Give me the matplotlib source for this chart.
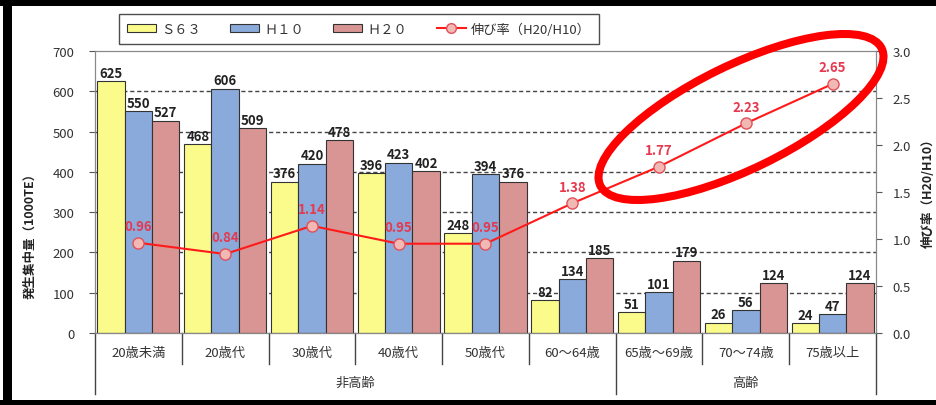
import matplotlib
matplotlib.use("Agg")
import matplotlib.pyplot as plt
import numpy as np
from matplotlib.patches import Ellipse, Rectangle, Patch
from matplotlib.lines import Line2D

plt.rcParams['font.family'] = ['Noto Sans CJK JP', 'DejaVu Sans']

# データ
categories = ["20歳未満", "20歳代", "30歳代", "40歳代", "50歳代",
              "60～64歳", "65歳～69歳", "70～74歳", "75歳以上"]
groups = ["非高齢", "高齢"]
group_span = [(0, 5), (6, 8)]
s63 = [625, 468, 376, 396, 248, 82, 51, 26, 24]
h10 = [550, 606, 420, 423, 394, 134, 101, 56, 47]
h20 = [527, 509, 478, 402, 376, 185, 179, 124, 124]
ratio = [0.96, 0.84, 1.14, 0.95, 0.95, 1.38, 1.77, 2.23, 2.65]
series_names = ["Ｓ６３", "Ｈ１０", "Ｈ２０"]
line_name = "伸び率（H20/H10）"
left_ticks = [0, 100, 200, 300, 400, 500, 600, 700]
right_ticks = [0.0, 0.5, 1.0, 1.5, 2.0, 2.5, 3.0]

colors = ["#FBFB8C", "#89AADA", "#D99594"]
W, H = 937, 406

fig = plt.figure(figsize=(W / 100, H / 100), dpi=100)
ax = fig.add_axes([95 / W, 72 / H, 781 / W, 282 / H])

x = np.arange(len(categories))
bw = 0.315
for k, vals in enumerate([s63, h10, h20]):
    bars = ax.bar(x + (k - 1) * bw, vals, bw, color=colors[k],
                  edgecolor="#333333", linewidth=0.8, zorder=2)
    for b, v in zip(bars, vals):
        ax.annotate(str(v), (b.get_x() + b.get_width() / 2, v),
                    xytext=(0, 1), textcoords="offset points",
                    ha="center", va="bottom", fontsize=9.5,
                    fontweight="bold", color="#222222", zorder=5)

ax.set_xlim(-0.5, len(categories) - 0.5)
ax.set_ylim(0, 700)
ax.set_yticks(left_ticks)
ax.set_xticks([])
ax.tick_params(axis="y", direction="out", length=4, pad=11,
               labelsize=9.5, labelcolor="#333333", color="#555555")
ax.grid(axis="y", color="#444444", linestyle=(0, (3, 2)), linewidth=1, zorder=0)
gl = ax.get_ygridlines()
gl[0].set_visible(False)
gl[-1].set_visible(False)
ax.set_axisbelow(True)
for s in ["top", "right", "left"]:
    ax.spines[s].set_color("#888888")
ax.spines["bottom"].set_color("#333333")

# 区切り線とカテゴリラベル
trans = ax.get_xaxis_transform()
bounds = np.arange(len(categories) + 1) - 0.5
group_edges = [group_span[0][0] - 0.5, group_span[0][1] + 0.5, group_span[1][1] + 0.5]
for b in bounds:
    depth = -0.216 if b in group_edges else -0.11
    ax.plot([b, b], [0, depth], transform=trans, color="#444444",
            lw=1, clip_on=False)
for i, c in enumerate(categories):
    ax.text(i, -0.068, c, transform=trans, ha="center", va="center",
            fontsize=9.5, color="#333333")
for g, (a, b) in zip(groups, group_span):
    ax.text((a + b) / 2, -0.175, g, transform=trans, ha="center",
            va="center", fontsize=9.5, color="#333333")

# 伸び率
ax2 = ax.twinx()
ax2.set_ylim(0, 3.0)
ax2.set_yticks(right_ticks)
ax2.set_yticklabels([f"{t:.1f}" for t in right_ticks])
ax2.tick_params(axis="y", direction="out", length=4, pad=8,
                labelsize=9.5, labelcolor="#333333", color="#555555")
for s in ["top", "right", "left", "bottom"]:
    ax2.spines[s].set_color("#888888")
ax2.plot(x, ratio, color="#FF1A1A", lw=1.5, marker="o", markersize=8,
         markerfacecolor="#F2B8B4", markeredgecolor="#E0505A",
         markeredgewidth=1, zorder=4)
for xi, r in zip(x, ratio):
    ax2.annotate(f"{r:.2f}", (xi, r), xytext=(0, 7), textcoords="offset points",
                 ha="center", va="bottom", fontsize=9.5, fontweight="bold",
                 color="#E6394F")

# 軸ラベル
fig.text(30 / W, 1 - 233 / H, "発生集中量（1000TE）", rotation=90,
         ha="center", va="center", fontsize=9, fontweight="bold", color="#222222")
fig.text(928 / W, 1 - 190 / H, "伸び率（H20/H10）", rotation=90,
         ha="center", va="center", fontsize=9, fontweight="bold", color="#222222")

# 凡例
handles = [Patch(facecolor=colors[k], edgecolor="#333333", linewidth=0.8)
           for k in range(3)]
handles.append(Line2D([0], [0], color="#FF1A1A", lw=1.5, marker="o",
                      markersize=7, markerfacecolor="#F2B8B4",
                      markeredgecolor="#E0505A"))
leg = fig.legend(handles, series_names + [line_name], loc="center",
                 bbox_to_anchor=(359 / W, 1 - 30 / H), ncol=4, fontsize=9.5,
                 frameon=True, fancybox=False, edgecolor="#222222",
                 handlelength=2.2, handleheight=0.6, handletextpad=0.4,
                 columnspacing=2.2, borderpad=0.6, borderaxespad=0)
leg.get_frame().set_linewidth(1.0)
for t in leg.get_texts():
    t.set_color("#333333")

# 強調の楕円
fig.add_artist(Ellipse((7.41, (H - 118) / 100), 3.13, 1.04, angle=26,
                       transform=fig.dpi_scale_trans, fill=False,
                       edgecolor="red", lw=5.8, zorder=10))

# 外枠
for (x0, y0, w, h) in [(0, (H - 7) / 100, W / 100, 0.07),
                       (0.03, 0, 0.09, H / 100),
                       (0, 0, W / 100, 0.05)]:
    fig.add_artist(Rectangle((x0, y0), w, h, transform=fig.dpi_scale_trans,
                             facecolor="black", edgecolor="none", zorder=11))

fig.savefig("out.png", dpi=100, facecolor="white")
